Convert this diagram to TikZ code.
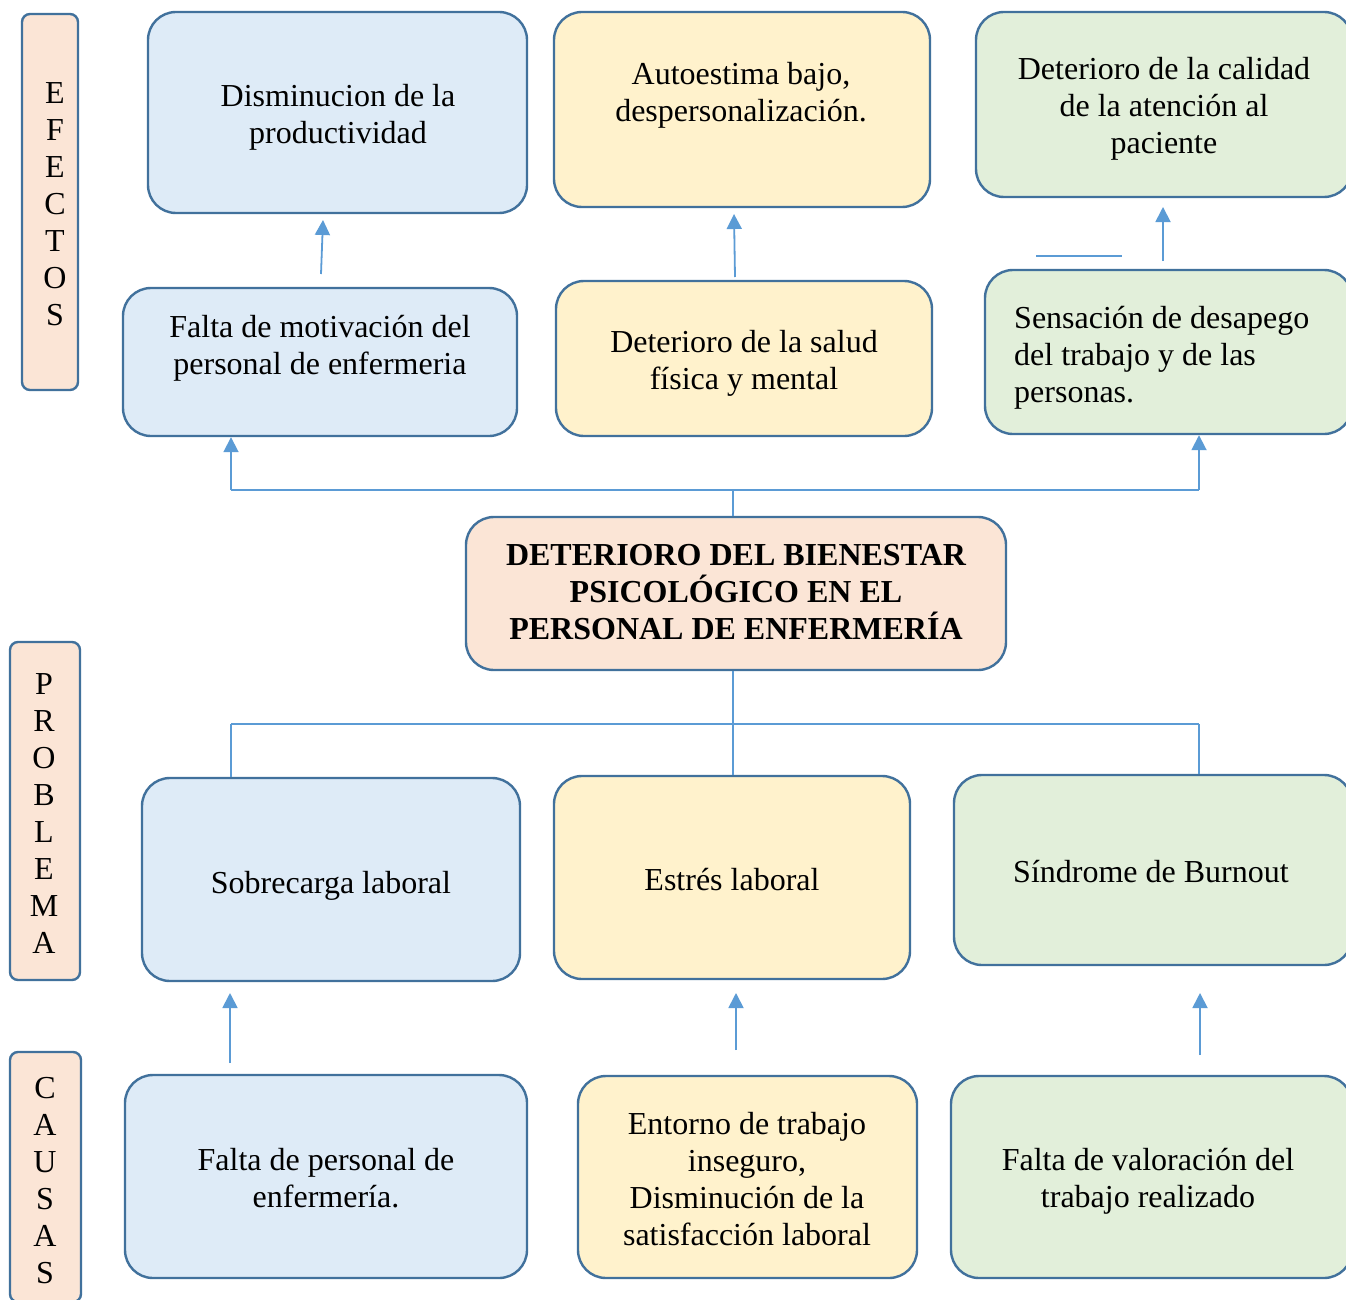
\documentclass[tikz,border=0pt]{standalone}
\usepackage{fontspec}
\setmainfont{Liberation Serif}
\usetikzlibrary{arrows.meta}
\definecolor{bordc}{HTML}{41719C}
\definecolor{linec}{HTML}{5B9BD5}
\definecolor{blueF}{HTML}{DEEBF7}
\definecolor{yellowF}{HTML}{FFF2CC}
\definecolor{greenF}{HTML}{E2EFDA}
\definecolor{peachF}{HTML}{FBE5D6}
\begin{document}
\begin{tikzpicture}[x=1pt,y=-1pt,
  bx/.style={draw=bordc, line width=2.4pt, rounded corners=28pt, inner sep=0pt, rectangle},
  sidebox/.style={draw=bordc, line width=2.4pt, rounded corners=8pt, fill=peachF, inner sep=0pt, rectangle},
  tx/.style={align=center, font=\fontsize{32}{37}\selectfont, inner sep=0pt},
  arr/.style={draw=linec, line width=1.8pt, -{Triangle[width=15pt,length=15pt]}},
  conn/.style={draw=linec, line width=1.5pt}]
\clip (0,0) rectangle (1346,1300);
\fill[white] (0,0) rectangle (1346,1300);

% side labels
\node[sidebox, minimum width=56pt, minimum height=376pt] (sEf) at (50,202) {};
\node[tx] (sEft) at (55,204) {E\\F\\E\\C\\T\\O\\S};
\node[sidebox, minimum width=70pt, minimum height=338pt] (sPr) at (45,811) {};
\node[tx] (sPrt) at (44,814) {P\\R\\O\\B\\L\\E\\M\\A};
\node[sidebox, minimum width=71pt, minimum height=250pt] (sCa) at (45.5,1177) {};
\node[tx] (sCat) at (45,1181) {C\\A\\U\\S\\A\\S};

% top row
\node[bx, fill=blueF, minimum width=379pt, minimum height=201pt] (b1) at (337.5,112.5) {};
\node[tx] (b1t) at (338,117) {Disminucion de la\\productividad};
\node[bx, fill=yellowF, minimum width=376pt, minimum height=195pt] (y1) at (742,109.5) {};
\node[tx] (y1t) at (741,95) {Autoestima bajo,\\despersonalización.};
\node[bx, fill=greenF, minimum width=376pt, minimum height=185pt] (g1) at (1164,104.5) {};
\node[tx] (g1t) at (1164,109) {Deterioro de la calidad\\de la atención al\\paciente};

% second row
\node[bx, fill=blueF, minimum width=394pt, minimum height=148pt] (b2) at (320,362) {};
\node[tx] (b2t) at (320,348) {Falta de motivación del\\personal de enfermeria};
\node[bx, fill=yellowF, minimum width=376pt, minimum height=155pt] (y2) at (744,358.5) {};
\node[tx] (y2t) at (744,363) {Deterioro de la salud\\física y mental};
\node[bx, fill=greenF, minimum width=367pt, minimum height=164pt] (g2) at (1168.5,352) {};
\node[tx, align=left, anchor=west] (g2t) at (1014,358) {Sensación de desapego\\del trabajo y de las\\personas.};

% title
\node[bx, fill=peachF, minimum width=540pt, minimum height=153pt] (ti) at (736,593.5) {};
\node[tx, font=\bfseries\fontsize{32}{37}\selectfont] (tit) at (736,592) {DETERIORO DEL BIENESTAR\\PSICOLÓGICO EN EL\\PERSONAL DE ENFERMERÍA};

% third row
\node[bx, fill=blueF, minimum width=378pt, minimum height=203pt] (b3) at (331,879.5) {};
\node[tx] (b3t) at (331,886) {Sobrecarga laboral};
\node[bx, fill=yellowF, minimum width=356pt, minimum height=203pt] (y3) at (732,877.5) {};
\node[tx] (y3t) at (732,880) {Estrés laboral};
\node[bx, fill=greenF, minimum width=398pt, minimum height=190pt] (g3) at (1153,870) {};
\node[tx] (g3t) at (1151,872) {Síndrome de Burnout};

% bottom row
\node[bx, fill=blueF, minimum width=402pt, minimum height=203pt] (b4) at (326,1176.5) {};
\node[tx] (b4t) at (326,1178) {Falta de personal de\\enfermería.};
\node[bx, fill=yellowF, minimum width=339pt, minimum height=202pt] (y4) at (747.5,1177) {};
\node[tx] (y4t) at (747,1179) {Entorno de trabajo\\inseguro,\\Disminución de la\\satisfacción laboral};
\node[bx, fill=greenF, minimum width=401pt, minimum height=202pt] (g4) at (1151.5,1177) {};
\node[tx] (g4t) at (1148,1181) {Falta de valoración del\\trabajo realizado};

% connectors above title
\coordinate (jt) at (733,490);
\coordinate (jl) at (231,490);
\coordinate (jr) at (1199,490);
\draw[conn] (ti.north -| jt) -- (jt);
\draw[conn] (jl) -- (jr);
\draw[arr] (jl) -- (jl |- b2.south);
\draw[arr] (jr) -- (jr |- g2.south);

% connectors below title
\coordinate (kb) at (733,724);
\coordinate (kl) at (231,724);
\coordinate (kr) at (1199,724);
\draw[conn] (ti.south -| kb) -- (kb |- y3.north);
\draw[conn] (kl) -- (kr);
\draw[conn] (kl) -- (kl |- b3.north);
\draw[conn] (kr) -- (kr |- g3.north);

% arrows between rows
\coordinate (a1s) at (321,274); \coordinate (a1e) at (323,220);
\coordinate (a2s) at (735,277); \coordinate (a2e) at (734,214);
\coordinate (a3s) at (1163,261); \coordinate (a3e) at (1163,207);
\coordinate (a4s) at (230,1063); \coordinate (a4e) at (230,993);
\coordinate (a5s) at (736,1050); \coordinate (a5e) at (736,993);
\coordinate (a6s) at (1200,1055); \coordinate (a6e) at (1200,993);
\draw[arr] (a1s) -- (a1e);
\draw[arr] (a2s) -- (a2e);
\draw[arr] (a3s) -- (a3e);
\draw[arr] (a4s) -- (a4e);
\draw[arr] (a5s) -- (a5e);
\draw[arr] (a6s) -- (a6e);

% stray short line
\coordinate (sl1) at (1036,256); \coordinate (sl2) at (1122,256);
\draw[conn] (sl1) -- (sl2);
\end{tikzpicture}
\end{document}
